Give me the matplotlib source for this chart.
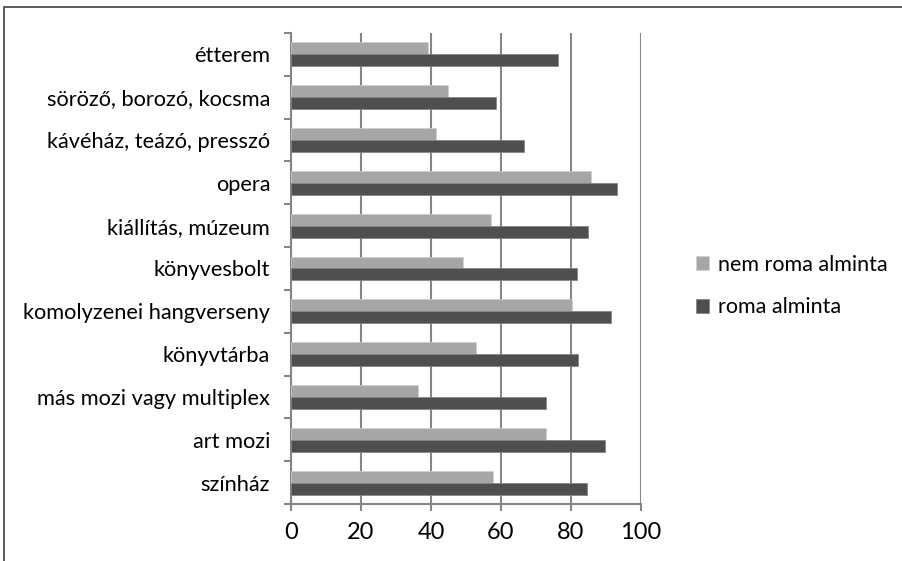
import matplotlib
matplotlib.use("Agg")
import matplotlib.pyplot as plt
import numpy as np
from matplotlib.patches import Rectangle

categories = ["színház", "art mozi", "más mozi vagy multiplex", "könyvtárba",
              "komolyzenei hangverseny", "könyvesbolt", "kiállítás, múzeum",
              "opera", "kávéház, teázó, presszó", "söröző, borozó, kocsma", "étterem"]
nem_roma = [57.6, 73.0, 36.4, 52.9, 80.4, 49.2, 57.1, 85.6, 41.4, 45.0, 39.1]
roma = [84.7, 89.8, 72.8, 82.1, 91.5, 81.7, 85.0, 93.1, 66.5, 58.6, 76.2]
series_names = ["nem roma alminta", "roma alminta"]
xticks = [0, 20, 40, 60, 80, 100]

plt.rcParams['font.family'] = ['Lato', 'DejaVu Sans']

W, H = 903, 561
fig = plt.figure(figsize=(W/100, H/100), dpi=100)
ax = fig.add_axes([291/W, 1-504/H, (641-291)/W, (504-33)/H])

gray = "#868686"
light = "#A6A6A6"
dark = "#4F4F4F"
y = np.arange(len(categories))
bh = 0.28
ax.barh(y + bh/2, nem_roma, height=bh, color=light, edgecolor="#D0D0D0", linewidth=0.5, label=series_names[0], zorder=3)
ax.barh(y - bh/2, roma, height=bh, color=dark, edgecolor="#808080", linewidth=0.5, label=series_names[1], zorder=3)

ax.set_xlim(0, 100)
ax.set_ylim(-0.5, len(categories) - 0.5)
ax.set_xticks(xticks)
ax.set_yticks(y)
ax.set_yticklabels(categories)
ax.set_yticks(np.arange(-0.5, len(categories), 1), minor=True)
ax.tick_params(axis='y', which='major', length=0, pad=15, labelsize=15.7)
ax.tick_params(axis='y', which='minor', length=5, width=1.5, color=gray, direction='out')
ax.tick_params(axis='x', length=5, width=1.5, color=gray, direction='out', labelsize=17, pad=8)
ax.xaxis.grid(True, color=gray, linewidth=1.5, zorder=0)
for s in ['top', 'right']:
    ax.spines[s].set_visible(False)
for s in ['left', 'bottom']:
    ax.spines[s].set_color(gray)
    ax.spines[s].set_linewidth(1.5)

handles, labels = ax.get_legend_handles_labels()
leg = fig.legend(handles, labels, loc='center left', bbox_to_anchor=(677/W, 1-286/H),
                 frameon=False, fontsize=15.5, handlelength=0.6, handleheight=0.6,
                 labelspacing=1.05, handletextpad=0.4)

fig.patches.append(Rectangle((4/W, -0.1), 1.2, 1 - 7/H + 0.1, transform=fig.transFigure,
                             fill=False, edgecolor="#404040", linewidth=1.2))
fig.savefig("out.png", dpi=100)
